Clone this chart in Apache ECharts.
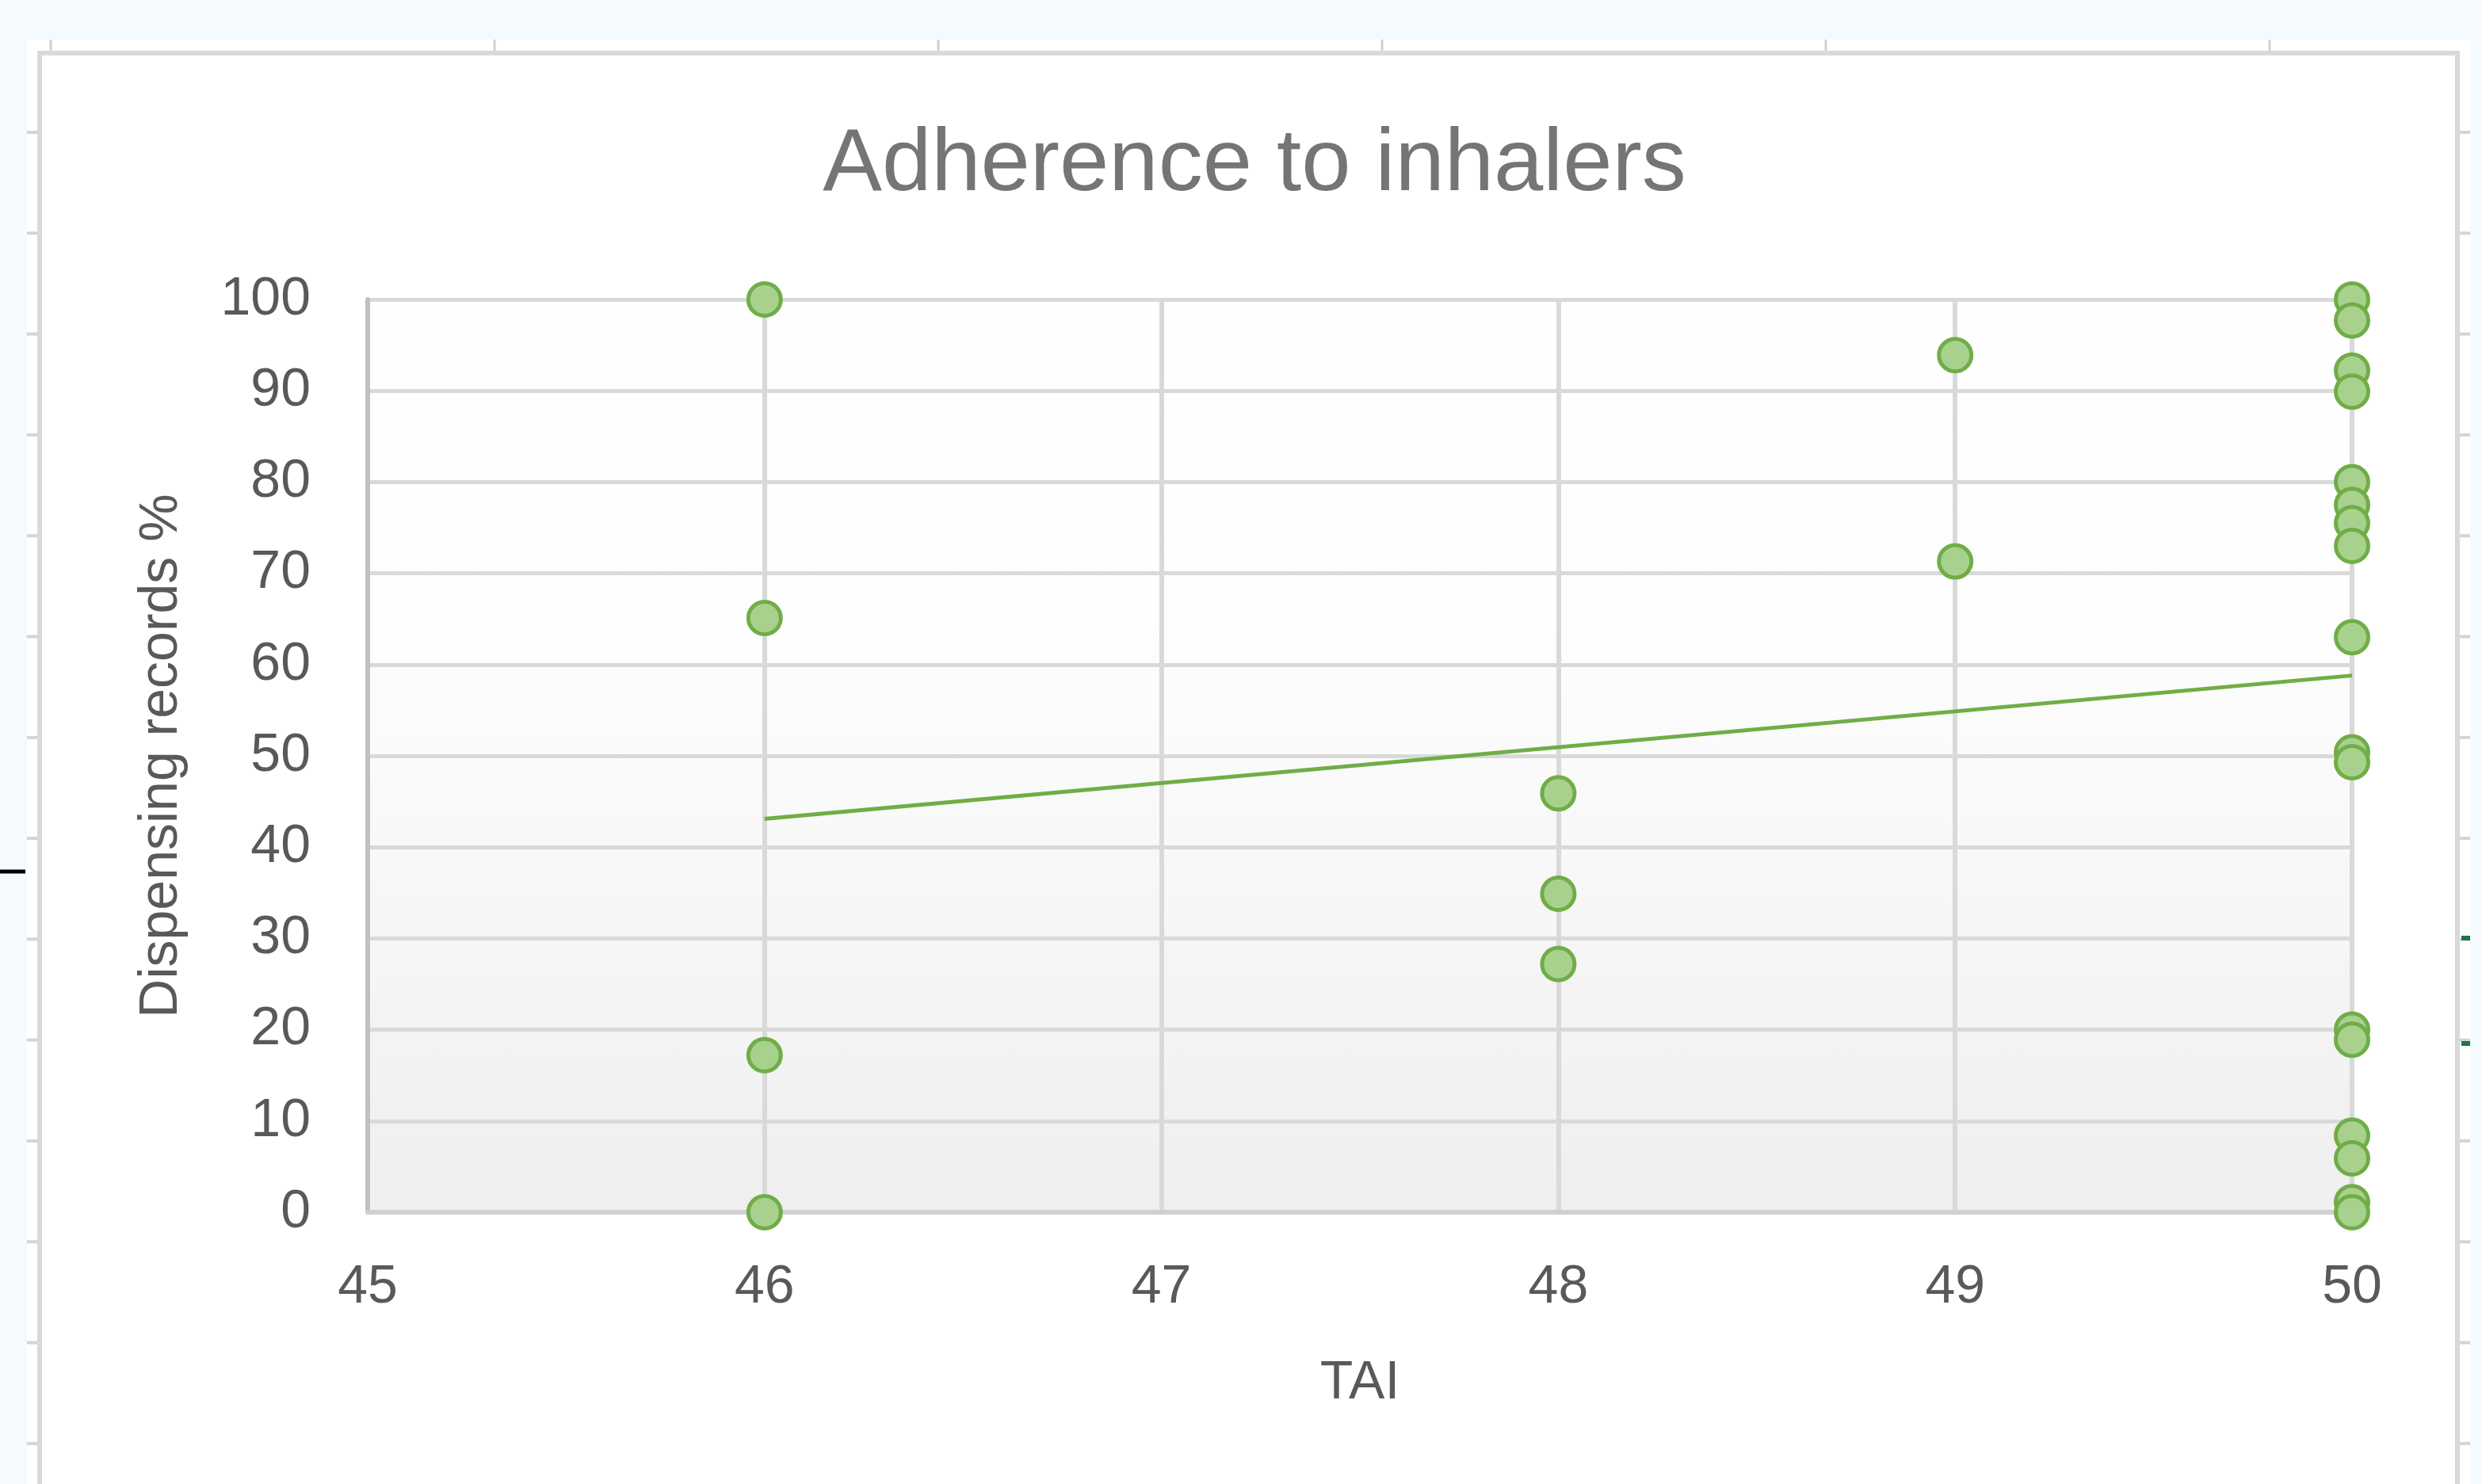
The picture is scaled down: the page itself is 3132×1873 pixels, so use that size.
<!DOCTYPE html>
<html>
<head>
<meta charset="utf-8">
<title>Adherence to inhalers</title>
<script src="https://cdn.jsdelivr.net/npm/echarts@6/dist/echarts.min.js"></script>
<style>
  html, body { margin: 0; padding: 0; background: #f5faff; }
  #main { width: 3132px; height: 1873px; }
</style>
</head>
<body>
<div id="main"></div>
<script>
// TAI score of each patient (x) and dispensing records % (y)
var taiScores = [
  46, 46, 46, 46,
  48, 48, 48,
  49, 49,
  50, 50, 50, 50, 50, 50, 50, 50, 50, 50, 50, 50, 50, 50, 50, 50, 50
];
var dispensingPct = [
  100, 65.1, 17.2, 0,
  45.9, 34.9, 27.2,
  93.9, 71.3,
  100, 97.7, 92.2, 89.9, 80, 77.5, 75.5, 73, 63, 50.4, 49.3, 20, 18.9, 8.4, 5.9, 1.1, 0
];
// linear trendline, end values
var trendX = [46, 50];
var trendY = [43.1, 58.8];

var xTicks = [45, 46, 47, 48, 49, 50];
var yTicks = [0, 10, 20, 30, 40, 50, 60, 70, 80, 90, 100];

var points = taiScores.map(function (x, i) { return [x, dispensingPct[i]]; });
var trend = trendX.map(function (x, i) { return [x, trendY[i]]; });

// spreadsheet behind the chart (cell borders, selection marks)
var deco = [];
deco.push({ type: 'rect', z: -20, silent: true, shape: { x: 34, y: 50, width: 3083, height: 1823 }, style: { fill: '#ffffff' } });
[64, 624, 1184, 1744, 2304, 2864].forEach(function (cx) {
  deco.push({ type: 'line', z: -19, silent: true, shape: { x1: cx, y1: 50, x2: cx, y2: 66 }, style: { stroke: '#d0d0d0', lineWidth: 3 } });
});
for (var ry = 167; ry < 1873; ry += 127.3) {
  deco.push({ type: 'line', z: -19, silent: true, shape: { x1: 34, y1: ry, x2: 47, y2: ry }, style: { stroke: '#d4d4d4', lineWidth: 4 } });
  deco.push({ type: 'line', z: -19, silent: true, shape: { x1: 3104, y1: ry, x2: 3117, y2: ry }, style: { stroke: '#d4d4d4', lineWidth: 4 } });
}
deco.push({ type: 'rect', z: -18, silent: true, shape: { x: 50, y: 67, width: 3051, height: 1830 }, style: { fill: '#ffffff', stroke: '#d9d9d9', lineWidth: 6 } });
deco.push({ type: 'line', z: -17, silent: true, shape: { x1: 0, y1: 1100, x2: 32, y2: 1100 }, style: { stroke: '#000000', lineWidth: 5 } });
deco.push({ type: 'line', z: -17, silent: true, shape: { x1: 3106, y1: 1184, x2: 3117, y2: 1184 }, style: { stroke: '#217346', lineWidth: 6 } });
deco.push({ type: 'line', z: -17, silent: true, shape: { x1: 3106, y1: 1317, x2: 3117, y2: 1317 }, style: { stroke: '#217346', lineWidth: 6 } });

var chart = echarts.init(document.getElementById('main'));
chart.setOption({
  backgroundColor: '#f5faff',
  animation: false,
  textStyle: { fontFamily: 'Liberation Sans' },
  graphic: deco,
  title: {
    text: 'Adherence to inhalers',
    left: 1578,
    textAlign: 'center',
    top: 148,
    textStyle: { fontFamily: 'Liberation Sans', fontSize: 112, fontWeight: 'normal', color: '#757575' }
  },
  grid: {
    left: 464,
    right: 164,
    top: 378,
    bottom: 343,
    show: true,
    borderWidth: 0,
    backgroundColor: new echarts.graphic.LinearGradient(0, 0, 0, 1, [
      { offset: 0, color: '#ffffff' },
      { offset: 0.35, color: '#fefefe' },
      { offset: 1, color: '#efefef' }
    ])
  },
  xAxis: {
    type: 'value',
    min: xTicks[0],
    max: xTicks[xTicks.length - 1],
    interval: 1,
    name: 'TAI',
    nameLocation: 'middle',
    nameGap: 182,
    nameTextStyle: { fontFamily: 'Liberation Sans', fontSize: 68, color: '#595959' },
    axisLine: { show: true, onZero: false, lineStyle: { color: '#d0d0d0', width: 6 } },
    axisTick: { show: false },
    axisLabel: { fontSize: 68, color: '#595959', margin: 61, fontFamily: 'Liberation Sans' },
    splitLine: { show: true, lineStyle: { color: '#d9d9d9', width: 6 } }
  },
  yAxis: {
    type: 'value',
    min: yTicks[0],
    max: yTicks[yTicks.length - 1],
    interval: 10,
    name: 'Dispensing records %',
    nameLocation: 'middle',
    nameGap: 226,
    nameTextStyle: { fontFamily: 'Liberation Sans', fontSize: 68, color: '#595959' },
    axisLine: { show: true, onZero: false, lineStyle: { color: '#c0c0c0', width: 6 } },
    axisTick: { show: false },
    axisLabel: { fontSize: 68, color: '#595959', margin: 72, padding: [0, 0, 16, 0], fontFamily: 'Liberation Sans' },
    splitLine: { show: true, lineStyle: { color: '#d9d9d9', width: 5 } }
  },
  series: [
    {
      name: 'Trendline',
      type: 'line',
      data: trend,
      symbol: 'none',
      lineStyle: { color: '#70ad47', width: 5 },
      z: 3
    },
    {
      name: 'Dispensing records %',
      type: 'scatter',
      data: points,
      symbol: 'circle',
      symbolSize: 41,
      itemStyle: { color: '#a9d18e', borderColor: '#70ad47', borderWidth: 5, opacity: 1 },
      z: 4
    }
  ]
});
</script>
</body>
</html>
